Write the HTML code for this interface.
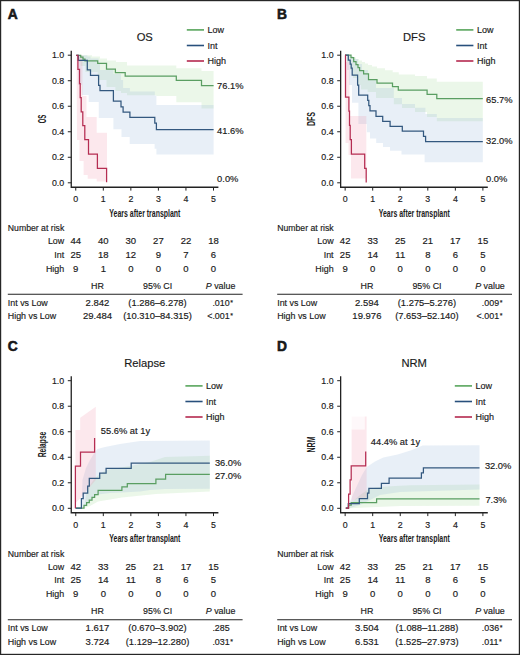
<!DOCTYPE html><html><head><meta charset="utf-8"><style>html,body{margin:0;padding:0;background:#fff;}svg{display:block;}</style></head><body>
<svg width="520" height="655" viewBox="0 0 520 655" font-family='"Liberation Sans", sans-serif' fill="#1a1a1a">
<style>text{stroke:#1a1a1a;stroke-width:0.16px;} text[font-weight=bold]{stroke:none;}</style>
<rect x="0" y="0" width="520" height="655" fill="#fff"/>
<g transform="translate(0,0)">
<g transform="translate(0,0)">
<path d="M76.30,55.30 L92.00,55.30 L92.00,56.50 L100.00,56.50 L100.00,58.50 L107.00,58.50 L107.00,60.50 L116.00,60.50 L116.00,62.00 L127.00,62.00 L127.00,65.40 L176.30,65.40 L176.30,68.30 L201.50,68.30 L201.50,71.00 L213.60,71.00 L213.60,108.60 L201.50,108.60 L201.50,102.30 L176.30,102.30 L176.30,95.90 L156.40,95.90 L156.40,95.20 L127.00,95.20 L127.00,93.00 L121.00,93.00 L121.00,91.00 L115.40,91.00 L115.40,87.00 L106.50,87.00 L106.50,80.00 L97.70,80.00 L97.70,72.00 L85.30,72.00 L85.30,66.00 L80.70,66.00 L80.70,62.00 L78.50,62.00 L78.50,55.30 L76.30,55.30 Z" fill="rgba(150,215,140,0.19)"/>
<path d="M76.30,55.30 L87.30,55.30 L87.30,56.50 L90.50,56.50 L90.50,58.50 L98.60,58.50 L98.60,63.00 L100.00,63.00 L100.00,70.00 L113.40,70.00 L113.40,74.00 L121.00,74.00 L121.00,80.00 L123.10,80.00 L123.10,88.00 L129.90,88.00 L129.90,91.50 L154.80,91.50 L154.80,95.50 L156.40,95.50 L156.40,105.00 L213.60,105.00 L213.60,154.60 L156.40,154.60 L156.40,148.80 L154.60,148.80 L154.60,144.00 L129.70,144.00 L129.70,137.00 L121.50,137.00 L121.50,129.20 L113.40,129.20 L113.40,118.00 L98.80,118.00 L98.80,102.00 L88.70,102.00 L88.70,95.00 L82.00,95.00 L82.00,85.00 L78.30,85.00 L78.30,55.30 L76.30,55.30 Z" fill="rgba(145,178,218,0.21)"/>
<path d="M76.50,55.30 L82.50,55.30 L82.50,96.00 L86.50,96.00 L86.50,117.00 L96.70,117.00 L96.70,132.80 L107.00,132.80 L107.00,181.50 L96.70,181.50 L96.70,178.80 L87.70,178.80 L87.70,175.00 L83.60,175.00 L83.60,161.00 L79.50,161.00 L79.50,140.00 L77.00,140.00 Z" fill="rgba(240,140,165,0.2)"/>
<path d="M76.30,55.30 H80.70 V57.00 H83.00 V59.00 H85.00 V60.90 H97.70 V63.40 H106.50 V69.00 H115.40 V72.70 H125.20 V76.10 H176.30 V80.30 H201.50 V85.50 H213.60" stroke="#5a9e62" stroke-width="1.25" fill="none" stroke-linejoin="miter" stroke-linecap="butt"/>
<path d="M76.30,55.30 H78.30 V60.40 H87.30 V69.90 H90.50 V75.30 H98.60 V85.30 H100.00 V90.50 H113.40 V101.20 H121.00 V106.80 H123.10 V112.00 H129.90 V117.40 H154.80 V123.20 H156.40 V129.50 H213.60" stroke="#33587f" stroke-width="1.25" fill="none" stroke-linejoin="miter" stroke-linecap="butt"/>
<path d="M76.30,55.30 H77.90 V69.40 H79.50 V83.60 H80.20 V97.70 H81.20 V111.90 H82.80 V125.60 H84.80 V139.50 H88.50 V154.00 H97.40 V168.30 H106.60 V182.30" stroke="#b52d52" stroke-width="1.25" fill="none" stroke-linejoin="miter" stroke-linecap="butt"/>
</g>
<path d="M71.25,50.8 V187.9 M70.6,187.25 H218.4" stroke="#222" stroke-width="1.3" fill="none"/>
<path d="M67.8,182.80 H71.3 M75.75,187.25 V190.6 M67.8,157.28 H71.3 M103.30,187.25 V190.6 M67.8,131.76 H71.3 M130.85,187.25 V190.6 M67.8,106.24 H71.3 M158.40,187.25 V190.6 M67.8,80.72 H71.3 M185.95,187.25 V190.6 M67.8,55.20 H71.3 M213.50,187.25 V190.6 " stroke="#222" stroke-width="1" fill="none"/>
<text x="64.20" y="185.90" font-size="8.8" text-anchor="end" font-weight="normal" >0.0</text>
<text x="75.75" y="202.20" font-size="8.8" text-anchor="middle" font-weight="normal" >0</text>
<text x="64.20" y="160.38" font-size="8.8" text-anchor="end" font-weight="normal" >0.2</text>
<text x="103.30" y="202.20" font-size="8.8" text-anchor="middle" font-weight="normal" >1</text>
<text x="64.20" y="134.86" font-size="8.8" text-anchor="end" font-weight="normal" >0.4</text>
<text x="130.85" y="202.20" font-size="8.8" text-anchor="middle" font-weight="normal" >2</text>
<text x="64.20" y="109.34" font-size="8.8" text-anchor="end" font-weight="normal" >0.6</text>
<text x="158.40" y="202.20" font-size="8.8" text-anchor="middle" font-weight="normal" >3</text>
<text x="64.20" y="83.82" font-size="8.8" text-anchor="end" font-weight="normal" >0.8</text>
<text x="185.95" y="202.20" font-size="8.8" text-anchor="middle" font-weight="normal" >4</text>
<text x="64.20" y="58.30" font-size="8.8" text-anchor="end" font-weight="normal" >1.0</text>
<text x="213.50" y="202.20" font-size="8.8" text-anchor="middle" font-weight="normal" >5</text>
<text x="144.85" y="216.9" font-size="10.2" font-weight="bold" text-anchor="middle" textLength="71" lengthAdjust="spacingAndGlyphs">Years after transplant</text>
<text transform="translate(45.8,119) rotate(-90)" x="0" y="0" font-size="11.6" text-anchor="middle" textLength="8.6" lengthAdjust="spacingAndGlyphs" font-weight="bold">OS</text>
<text x="7.70" y="19.00" font-size="13.8" text-anchor="start" font-weight="bold" style="stroke:#111;stroke-width:0.55px">A</text>
<text x="144.75" y="41.20" font-size="11.2" text-anchor="middle" font-weight="normal" >OS</text>
<path d="M186.8,29.9 H204" stroke="#58a55c" stroke-width="1.6"/>
<text x="207.50" y="33.10" font-size="9" text-anchor="start" font-weight="normal" >Low</text>
<path d="M186.8,45.5 H204" stroke="#28507c" stroke-width="1.6"/>
<text x="207.50" y="48.70" font-size="9" text-anchor="start" font-weight="normal" >Int</text>
<path d="M186.8,61.0 H204" stroke="#b4284e" stroke-width="1.6"/>
<text x="207.50" y="64.20" font-size="9" text-anchor="start" font-weight="normal" >High</text>
<text transform="translate(217.10,88.70) scale(1.05,1)" font-size="8.9" text-anchor="start" font-weight="normal" >76.1%</text>
<text transform="translate(217.10,133.60) scale(1.05,1)" font-size="8.9" text-anchor="start" font-weight="normal" >41.6%</text>
<text transform="translate(217.10,182.20) scale(1.05,1)" font-size="8.9" text-anchor="start" font-weight="normal" >0.0%</text>
<text x="7.80" y="231.40" font-size="8.7" text-anchor="start" font-weight="normal" >Number at risk</text>
<text x="64.20" y="244.30" font-size="8.9" text-anchor="end" font-weight="normal" >Low</text>
<text transform="translate(75.75,244.30) scale(1.07,1)" font-size="8.9" text-anchor="middle" font-weight="normal" >44</text>
<text transform="translate(103.30,244.30) scale(1.07,1)" font-size="8.9" text-anchor="middle" font-weight="normal" >40</text>
<text transform="translate(130.85,244.30) scale(1.07,1)" font-size="8.9" text-anchor="middle" font-weight="normal" >30</text>
<text transform="translate(158.40,244.30) scale(1.07,1)" font-size="8.9" text-anchor="middle" font-weight="normal" >27</text>
<text transform="translate(185.95,244.30) scale(1.07,1)" font-size="8.9" text-anchor="middle" font-weight="normal" >22</text>
<text transform="translate(213.50,244.30) scale(1.07,1)" font-size="8.9" text-anchor="middle" font-weight="normal" >18</text>
<text x="64.20" y="257.90" font-size="8.9" text-anchor="end" font-weight="normal" >Int</text>
<text transform="translate(75.75,257.90) scale(1.07,1)" font-size="8.9" text-anchor="middle" font-weight="normal" >25</text>
<text transform="translate(103.30,257.90) scale(1.07,1)" font-size="8.9" text-anchor="middle" font-weight="normal" >18</text>
<text transform="translate(130.85,257.90) scale(1.07,1)" font-size="8.9" text-anchor="middle" font-weight="normal" >12</text>
<text transform="translate(158.40,257.90) scale(1.07,1)" font-size="8.9" text-anchor="middle" font-weight="normal" >9</text>
<text transform="translate(185.95,257.90) scale(1.07,1)" font-size="8.9" text-anchor="middle" font-weight="normal" >7</text>
<text transform="translate(213.50,257.90) scale(1.07,1)" font-size="8.9" text-anchor="middle" font-weight="normal" >6</text>
<text x="64.20" y="271.60" font-size="8.9" text-anchor="end" font-weight="normal" >High</text>
<text transform="translate(75.75,271.60) scale(1.07,1)" font-size="8.9" text-anchor="middle" font-weight="normal" >9</text>
<text transform="translate(103.30,271.60) scale(1.07,1)" font-size="8.9" text-anchor="middle" font-weight="normal" >1</text>
<text transform="translate(130.85,271.60) scale(1.07,1)" font-size="8.9" text-anchor="middle" font-weight="normal" >0</text>
<text transform="translate(158.40,271.60) scale(1.07,1)" font-size="8.9" text-anchor="middle" font-weight="normal" >0</text>
<text transform="translate(185.95,271.60) scale(1.07,1)" font-size="8.9" text-anchor="middle" font-weight="normal" >0</text>
<text transform="translate(213.50,271.60) scale(1.07,1)" font-size="8.9" text-anchor="middle" font-weight="normal" >0</text>
<text x="97.50" y="288.80" font-size="8.9" text-anchor="middle" font-weight="normal" >HR</text>
<text x="157.60" y="288.80" font-size="8.9" text-anchor="middle" font-weight="normal" >95% CI</text>
<text x="220.60" y="288.80" font-size="8.9" text-anchor="middle" font-weight="normal" ><tspan font-style="italic">P</tspan> value</text>
<path d="M7.8,294.3 H242.6" stroke="#222" stroke-width="1.1"/>
<text x="7.80" y="305.50" font-size="8.9" text-anchor="start" font-weight="normal" >Int vs Low</text>
<text transform="translate(97.50,305.50) scale(1.07,1)" font-size="8.9" text-anchor="middle" font-weight="normal" >2.842</text>
<text transform="translate(157.50,305.50) scale(1.055,1)" font-size="8.9" text-anchor="middle" font-weight="normal" >(1.286–6.278)</text>
<text x="212.40" y="305.50" font-size="8.9" text-anchor="start" font-weight="normal" >.010<tspan font-size="7" dx="0.6" dy="-0.6">*</tspan></text>
<text x="7.80" y="319.00" font-size="8.9" text-anchor="start" font-weight="normal" >High vs Low</text>
<text transform="translate(97.50,319.00) scale(1.07,1)" font-size="8.9" text-anchor="middle" font-weight="normal" >29.484</text>
<text transform="translate(157.50,319.00) scale(1.055,1)" font-size="8.9" text-anchor="middle" font-weight="normal" >(10.310–84.315)</text>
<text x="212.40" y="319.00" font-size="8.9" text-anchor="end" font-weight="normal" >&lt;</text>
<text x="212.40" y="319.00" font-size="8.9" text-anchor="start" font-weight="normal" >.001<tspan font-size="7" dx="0.6" dy="-0.6">*</tspan></text>
</g>
<g transform="translate(269.4,0)">
<g transform="translate(-269.4,0)">
<path d="M345.20,55.20 L350.00,55.20 L350.00,56.20 L353.00,56.20 L353.00,57.50 L356.00,57.50 L356.00,59.00 L359.00,59.00 L359.00,60.50 L362.00,60.50 L362.00,62.00 L365.00,62.00 L365.00,63.50 L368.00,63.50 L368.00,65.00 L372.00,65.00 L372.00,66.50 L377.00,66.50 L377.00,68.30 L385.00,68.30 L385.00,70.30 L392.70,70.30 L392.70,72.30 L398.80,72.30 L398.80,74.60 L415.00,74.60 L415.00,75.90 L427.00,75.90 L427.00,78.50 L436.80,78.50 L436.80,81.80 L482.80,81.80 L482.80,121.20 L436.80,121.20 L436.80,117.00 L427.00,117.00 L427.00,112.00 L415.00,112.00 L415.00,108.00 L402.00,108.00 L402.00,104.30 L393.80,104.30 L393.80,98.00 L376.00,98.00 L376.00,92.00 L367.60,92.00 L367.60,89.50 L361.00,89.50 L361.00,85.00 L357.00,85.00 L357.00,78.00 L353.00,78.00 L353.00,70.00 L350.00,70.00 L350.00,62.00 L347.00,62.00 L347.00,55.20 L345.20,55.20 Z" fill="rgba(150,215,140,0.19)"/>
<path d="M345.20,55.20 L350.00,55.20 L350.00,56.50 L353.00,56.50 L353.00,59.00 L358.00,59.00 L358.00,64.00 L362.00,64.00 L362.00,70.00 L368.00,70.00 L368.00,80.00 L376.00,80.00 L376.00,88.00 L393.80,88.00 L393.80,98.00 L402.00,98.00 L402.00,104.00 L415.00,104.00 L415.00,107.80 L425.40,107.80 L425.40,114.00 L436.80,114.00 L436.80,117.90 L482.80,117.90 L482.80,162.30 L424.60,162.30 L424.60,154.60 L401.50,154.60 L401.50,150.80 L390.00,150.80 L390.00,147.00 L383.00,147.00 L383.00,143.00 L376.20,143.00 L376.20,138.50 L370.00,138.50 L370.00,132.30 L366.90,132.30 L366.90,124.00 L358.40,124.00 L358.40,102.80 L352.00,102.80 L352.00,85.00 L349.00,85.00 L349.00,70.00 L347.00,70.00 L347.00,55.20 L345.20,55.20 Z" fill="rgba(145,178,218,0.21)"/>
<path d="M345.50,62.00 L349.50,62.00 L349.50,116.00 L366.30,116.00 L366.30,178.50 L351.00,178.50 L351.00,155.00 L348.50,155.00 L348.50,143.00 L345.50,143.00 Z" fill="rgba(240,140,165,0.2)"/>
<path d="M345.20,55.20 H351.00 V57.70 H353.70 V61.50 H356.00 V64.60 H358.00 V67.50 H359.60 V70.50 H363.60 V73.80 H368.50 V79.60 H377.00 V83.10 H392.50 V86.50 H398.30 V90.20 H427.10 V94.40 H436.80 V98.60 H482.80" stroke="#5a9e62" stroke-width="1.25" fill="none" stroke-linejoin="miter" stroke-linecap="butt"/>
<path d="M345.20,55.20 H348.30 V60.00 H350.20 V64.00 H351.20 V68.00 H352.20 V75.10 H357.60 V85.00 H358.70 V95.10 H367.70 V100.40 H368.80 V105.50 H370.00 V110.80 H376.00 V116.40 H382.70 V121.40 H390.10 V126.30 H402.30 V131.20 H423.50 V136.30 H425.60 V141.60 H482.80" stroke="#33587f" stroke-width="1.25" fill="none" stroke-linejoin="miter" stroke-linecap="butt"/>
<path d="M345.20,55.20 H345.50 V97.00 H348.90 V111.20 H349.50 V125.40 H350.20 V139.60 H351.40 V154.10 H364.70 V168.40 H366.20 V182.40" stroke="#b52d52" stroke-width="1.25" fill="none" stroke-linejoin="miter" stroke-linecap="butt"/>
</g>
<path d="M71.25,50.8 V187.9 M70.6,187.25 H218.4" stroke="#222" stroke-width="1.3" fill="none"/>
<path d="M67.8,182.80 H71.3 M75.75,187.25 V190.6 M67.8,157.28 H71.3 M103.30,187.25 V190.6 M67.8,131.76 H71.3 M130.85,187.25 V190.6 M67.8,106.24 H71.3 M158.40,187.25 V190.6 M67.8,80.72 H71.3 M185.95,187.25 V190.6 M67.8,55.20 H71.3 M213.50,187.25 V190.6 " stroke="#222" stroke-width="1" fill="none"/>
<text x="64.20" y="185.90" font-size="8.8" text-anchor="end" font-weight="normal" >0.0</text>
<text x="75.75" y="202.20" font-size="8.8" text-anchor="middle" font-weight="normal" >0</text>
<text x="64.20" y="160.38" font-size="8.8" text-anchor="end" font-weight="normal" >0.2</text>
<text x="103.30" y="202.20" font-size="8.8" text-anchor="middle" font-weight="normal" >1</text>
<text x="64.20" y="134.86" font-size="8.8" text-anchor="end" font-weight="normal" >0.4</text>
<text x="130.85" y="202.20" font-size="8.8" text-anchor="middle" font-weight="normal" >2</text>
<text x="64.20" y="109.34" font-size="8.8" text-anchor="end" font-weight="normal" >0.6</text>
<text x="158.40" y="202.20" font-size="8.8" text-anchor="middle" font-weight="normal" >3</text>
<text x="64.20" y="83.82" font-size="8.8" text-anchor="end" font-weight="normal" >0.8</text>
<text x="185.95" y="202.20" font-size="8.8" text-anchor="middle" font-weight="normal" >4</text>
<text x="64.20" y="58.30" font-size="8.8" text-anchor="end" font-weight="normal" >1.0</text>
<text x="213.50" y="202.20" font-size="8.8" text-anchor="middle" font-weight="normal" >5</text>
<text x="144.85" y="216.9" font-size="10.2" font-weight="bold" text-anchor="middle" textLength="71" lengthAdjust="spacingAndGlyphs">Years after transplant</text>
<text transform="translate(45.8,119) rotate(-90)" x="0" y="0" font-size="11.6" text-anchor="middle" textLength="14.1" lengthAdjust="spacingAndGlyphs" font-weight="bold">DFS</text>
<text x="7.70" y="19.00" font-size="13.8" text-anchor="start" font-weight="bold" style="stroke:#111;stroke-width:0.55px">B</text>
<text x="144.75" y="41.20" font-size="11.2" text-anchor="middle" font-weight="normal" >DFS</text>
<path d="M186.8,29.9 H204" stroke="#58a55c" stroke-width="1.6"/>
<text x="207.50" y="33.10" font-size="9" text-anchor="start" font-weight="normal" >Low</text>
<path d="M186.8,45.5 H204" stroke="#28507c" stroke-width="1.6"/>
<text x="207.50" y="48.70" font-size="9" text-anchor="start" font-weight="normal" >Int</text>
<path d="M186.8,61.0 H204" stroke="#b4284e" stroke-width="1.6"/>
<text x="207.50" y="64.20" font-size="9" text-anchor="start" font-weight="normal" >High</text>
<text transform="translate(216.60,102.60) scale(1.05,1)" font-size="8.9" text-anchor="start" font-weight="normal" >65.7%</text>
<text transform="translate(216.60,144.10) scale(1.05,1)" font-size="8.9" text-anchor="start" font-weight="normal" >32.0%</text>
<text transform="translate(216.60,182.10) scale(1.05,1)" font-size="8.9" text-anchor="start" font-weight="normal" >0.0%</text>
<text x="7.80" y="231.40" font-size="8.7" text-anchor="start" font-weight="normal" >Number at risk</text>
<text x="64.20" y="244.30" font-size="8.9" text-anchor="end" font-weight="normal" >Low</text>
<text transform="translate(75.75,244.30) scale(1.07,1)" font-size="8.9" text-anchor="middle" font-weight="normal" >42</text>
<text transform="translate(103.30,244.30) scale(1.07,1)" font-size="8.9" text-anchor="middle" font-weight="normal" >33</text>
<text transform="translate(130.85,244.30) scale(1.07,1)" font-size="8.9" text-anchor="middle" font-weight="normal" >25</text>
<text transform="translate(158.40,244.30) scale(1.07,1)" font-size="8.9" text-anchor="middle" font-weight="normal" >21</text>
<text transform="translate(185.95,244.30) scale(1.07,1)" font-size="8.9" text-anchor="middle" font-weight="normal" >17</text>
<text transform="translate(213.50,244.30) scale(1.07,1)" font-size="8.9" text-anchor="middle" font-weight="normal" >15</text>
<text x="64.20" y="257.90" font-size="8.9" text-anchor="end" font-weight="normal" >Int</text>
<text transform="translate(75.75,257.90) scale(1.07,1)" font-size="8.9" text-anchor="middle" font-weight="normal" >25</text>
<text transform="translate(103.30,257.90) scale(1.07,1)" font-size="8.9" text-anchor="middle" font-weight="normal" >14</text>
<text transform="translate(130.85,257.90) scale(1.07,1)" font-size="8.9" text-anchor="middle" font-weight="normal" >11</text>
<text transform="translate(158.40,257.90) scale(1.07,1)" font-size="8.9" text-anchor="middle" font-weight="normal" >8</text>
<text transform="translate(185.95,257.90) scale(1.07,1)" font-size="8.9" text-anchor="middle" font-weight="normal" >6</text>
<text transform="translate(213.50,257.90) scale(1.07,1)" font-size="8.9" text-anchor="middle" font-weight="normal" >5</text>
<text x="64.20" y="271.60" font-size="8.9" text-anchor="end" font-weight="normal" >High</text>
<text transform="translate(75.75,271.60) scale(1.07,1)" font-size="8.9" text-anchor="middle" font-weight="normal" >9</text>
<text transform="translate(103.30,271.60) scale(1.07,1)" font-size="8.9" text-anchor="middle" font-weight="normal" >0</text>
<text transform="translate(130.85,271.60) scale(1.07,1)" font-size="8.9" text-anchor="middle" font-weight="normal" >0</text>
<text transform="translate(158.40,271.60) scale(1.07,1)" font-size="8.9" text-anchor="middle" font-weight="normal" >0</text>
<text transform="translate(185.95,271.60) scale(1.07,1)" font-size="8.9" text-anchor="middle" font-weight="normal" >0</text>
<text transform="translate(213.50,271.60) scale(1.07,1)" font-size="8.9" text-anchor="middle" font-weight="normal" >0</text>
<text x="97.50" y="288.80" font-size="8.9" text-anchor="middle" font-weight="normal" >HR</text>
<text x="157.60" y="288.80" font-size="8.9" text-anchor="middle" font-weight="normal" >95% CI</text>
<text x="220.60" y="288.80" font-size="8.9" text-anchor="middle" font-weight="normal" ><tspan font-style="italic">P</tspan> value</text>
<path d="M7.8,294.3 H242.6" stroke="#222" stroke-width="1.1"/>
<text x="7.80" y="305.50" font-size="8.9" text-anchor="start" font-weight="normal" >Int vs Low</text>
<text transform="translate(97.50,305.50) scale(1.07,1)" font-size="8.9" text-anchor="middle" font-weight="normal" >2.594</text>
<text transform="translate(157.50,305.50) scale(1.055,1)" font-size="8.9" text-anchor="middle" font-weight="normal" >(1.275–5.276)</text>
<text x="212.40" y="305.50" font-size="8.9" text-anchor="start" font-weight="normal" >.009<tspan font-size="7" dx="0.6" dy="-0.6">*</tspan></text>
<text x="7.80" y="319.00" font-size="8.9" text-anchor="start" font-weight="normal" >High vs Low</text>
<text transform="translate(97.50,319.00) scale(1.07,1)" font-size="8.9" text-anchor="middle" font-weight="normal" >19.976</text>
<text transform="translate(157.50,319.00) scale(1.055,1)" font-size="8.9" text-anchor="middle" font-weight="normal" >(7.653–52.140)</text>
<text x="212.40" y="319.00" font-size="8.9" text-anchor="end" font-weight="normal" >&lt;</text>
<text x="212.40" y="319.00" font-size="8.9" text-anchor="start" font-weight="normal" >.001<tspan font-size="7" dx="0.6" dy="-0.6">*</tspan></text>
</g>
<g transform="translate(0,325.5)">
<g transform="translate(0,-325.5)">
<path d="M84.00,508.00 L86.00,495.00 L90.00,485.00 L95.00,478.00 L100.00,474.00 L106.00,470.00 L130.00,466.00 L150.00,462.00 L165.00,457.00 L209.80,455.80 L209.80,491.50 L156.00,494.00 L122.00,497.50 L98.00,501.50 L90.00,506.00 Z" fill="rgba(150,215,140,0.19)"/>
<path d="M81.50,508.00 L82.50,480.00 L86.00,468.00 L90.00,460.00 L95.00,452.00 L97.50,449.00 L105.00,447.00 L120.00,444.00 L140.00,441.00 L209.80,440.40 L209.80,488.80 L165.00,489.00 L150.00,490.00 L140.00,491.50 L122.00,492.50 L110.00,493.00 L98.00,494.50 L90.00,501.00 L85.00,506.00 Z" fill="rgba(145,178,218,0.21)"/>
<path d="M75.40,430.00 L80.20,430.00 L80.20,417.70 L95.80,406.80 L95.80,480.00 L80.50,498.00 L75.40,503.00 Z" fill="rgba(240,140,165,0.2)"/>
<path d="M75.60,508.20 H84.00 V505.30 H86.60 V502.60 H89.30 V500.00 H92.00 V497.40 H94.60 V494.70 H98.10 V490.30 H121.90 V486.80 H127.30 V483.50 H155.90 V479.10 H165.60 V474.40 H209.80" stroke="#5a9e62" stroke-width="1.25" fill="none" stroke-linejoin="miter" stroke-linecap="butt"/>
<path d="M75.60,508.20 H81.40 V498.50 H83.20 V493.00 H87.70 V486.00 H89.30 V478.30 H99.70 V473.20 H106.10 V468.40 H131.20 V463.10 H209.80" stroke="#33587f" stroke-width="1.25" fill="none" stroke-linejoin="miter" stroke-linecap="butt"/>
<path d="M75.40,508.20 H75.40 V466.20 H80.50 V452.10 H94.60 V438.00" stroke="#b52d52" stroke-width="1.25" fill="none" stroke-linejoin="miter" stroke-linecap="butt"/>
</g>
<path d="M71.25,50.8 V187.9 M70.6,187.25 H218.4" stroke="#222" stroke-width="1.3" fill="none"/>
<path d="M67.8,182.80 H71.3 M75.75,187.25 V190.6 M67.8,157.28 H71.3 M103.30,187.25 V190.6 M67.8,131.76 H71.3 M130.85,187.25 V190.6 M67.8,106.24 H71.3 M158.40,187.25 V190.6 M67.8,80.72 H71.3 M185.95,187.25 V190.6 M67.8,55.20 H71.3 M213.50,187.25 V190.6 " stroke="#222" stroke-width="1" fill="none"/>
<text x="64.20" y="185.90" font-size="8.8" text-anchor="end" font-weight="normal" >0.0</text>
<text x="75.75" y="202.20" font-size="8.8" text-anchor="middle" font-weight="normal" >0</text>
<text x="64.20" y="160.38" font-size="8.8" text-anchor="end" font-weight="normal" >0.2</text>
<text x="103.30" y="202.20" font-size="8.8" text-anchor="middle" font-weight="normal" >1</text>
<text x="64.20" y="134.86" font-size="8.8" text-anchor="end" font-weight="normal" >0.4</text>
<text x="130.85" y="202.20" font-size="8.8" text-anchor="middle" font-weight="normal" >2</text>
<text x="64.20" y="109.34" font-size="8.8" text-anchor="end" font-weight="normal" >0.6</text>
<text x="158.40" y="202.20" font-size="8.8" text-anchor="middle" font-weight="normal" >3</text>
<text x="64.20" y="83.82" font-size="8.8" text-anchor="end" font-weight="normal" >0.8</text>
<text x="185.95" y="202.20" font-size="8.8" text-anchor="middle" font-weight="normal" >4</text>
<text x="64.20" y="58.30" font-size="8.8" text-anchor="end" font-weight="normal" >1.0</text>
<text x="213.50" y="202.20" font-size="8.8" text-anchor="middle" font-weight="normal" >5</text>
<text x="144.85" y="216.9" font-size="10.2" font-weight="bold" text-anchor="middle" textLength="71" lengthAdjust="spacingAndGlyphs">Years after transplant</text>
<text transform="translate(45.8,119) rotate(-90)" x="0" y="0" font-size="11.6" text-anchor="middle" textLength="25.6" lengthAdjust="spacingAndGlyphs" font-weight="bold">Relapse</text>
<text x="7.70" y="25.60" font-size="13.8" text-anchor="start" font-weight="bold" style="stroke:#111;stroke-width:0.55px">C</text>
<text x="144.75" y="41.20" font-size="11.2" text-anchor="middle" font-weight="normal" >Relapse</text>
<path d="M185.4,60.4 H202.6" stroke="#58a55c" stroke-width="1.6"/>
<text x="206.10" y="63.60" font-size="9" text-anchor="start" font-weight="normal" >Low</text>
<path d="M185.4,76.0 H202.6" stroke="#28507c" stroke-width="1.6"/>
<text x="206.10" y="79.20" font-size="9" text-anchor="start" font-weight="normal" >Int</text>
<path d="M185.4,91.5 H202.6" stroke="#b4284e" stroke-width="1.6"/>
<text x="206.10" y="94.70" font-size="9" text-anchor="start" font-weight="normal" >High</text>
<text transform="translate(214.90,140.10) scale(1.05,1)" font-size="8.9" text-anchor="start" font-weight="normal" >36.0%</text>
<text transform="translate(214.90,153.80) scale(1.05,1)" font-size="8.9" text-anchor="start" font-weight="normal" >27.0%</text>
<text transform="translate(100.80,108.70) scale(1.05,1)" font-size="8.9" text-anchor="start" font-weight="normal" >55.6% at 1y</text>
<text x="7.80" y="231.40" font-size="8.7" text-anchor="start" font-weight="normal" >Number at risk</text>
<text x="64.20" y="244.30" font-size="8.9" text-anchor="end" font-weight="normal" >Low</text>
<text transform="translate(75.75,244.30) scale(1.07,1)" font-size="8.9" text-anchor="middle" font-weight="normal" >42</text>
<text transform="translate(103.30,244.30) scale(1.07,1)" font-size="8.9" text-anchor="middle" font-weight="normal" >33</text>
<text transform="translate(130.85,244.30) scale(1.07,1)" font-size="8.9" text-anchor="middle" font-weight="normal" >25</text>
<text transform="translate(158.40,244.30) scale(1.07,1)" font-size="8.9" text-anchor="middle" font-weight="normal" >21</text>
<text transform="translate(185.95,244.30) scale(1.07,1)" font-size="8.9" text-anchor="middle" font-weight="normal" >17</text>
<text transform="translate(213.50,244.30) scale(1.07,1)" font-size="8.9" text-anchor="middle" font-weight="normal" >15</text>
<text x="64.20" y="257.90" font-size="8.9" text-anchor="end" font-weight="normal" >Int</text>
<text transform="translate(75.75,257.90) scale(1.07,1)" font-size="8.9" text-anchor="middle" font-weight="normal" >25</text>
<text transform="translate(103.30,257.90) scale(1.07,1)" font-size="8.9" text-anchor="middle" font-weight="normal" >14</text>
<text transform="translate(130.85,257.90) scale(1.07,1)" font-size="8.9" text-anchor="middle" font-weight="normal" >11</text>
<text transform="translate(158.40,257.90) scale(1.07,1)" font-size="8.9" text-anchor="middle" font-weight="normal" >8</text>
<text transform="translate(185.95,257.90) scale(1.07,1)" font-size="8.9" text-anchor="middle" font-weight="normal" >6</text>
<text transform="translate(213.50,257.90) scale(1.07,1)" font-size="8.9" text-anchor="middle" font-weight="normal" >5</text>
<text x="64.20" y="271.60" font-size="8.9" text-anchor="end" font-weight="normal" >High</text>
<text transform="translate(75.75,271.60) scale(1.07,1)" font-size="8.9" text-anchor="middle" font-weight="normal" >9</text>
<text transform="translate(103.30,271.60) scale(1.07,1)" font-size="8.9" text-anchor="middle" font-weight="normal" >0</text>
<text transform="translate(130.85,271.60) scale(1.07,1)" font-size="8.9" text-anchor="middle" font-weight="normal" >0</text>
<text transform="translate(158.40,271.60) scale(1.07,1)" font-size="8.9" text-anchor="middle" font-weight="normal" >0</text>
<text transform="translate(185.95,271.60) scale(1.07,1)" font-size="8.9" text-anchor="middle" font-weight="normal" >0</text>
<text transform="translate(213.50,271.60) scale(1.07,1)" font-size="8.9" text-anchor="middle" font-weight="normal" >0</text>
<text x="97.50" y="288.80" font-size="8.9" text-anchor="middle" font-weight="normal" >HR</text>
<text x="157.60" y="288.80" font-size="8.9" text-anchor="middle" font-weight="normal" >95% CI</text>
<text x="220.60" y="288.80" font-size="8.9" text-anchor="middle" font-weight="normal" ><tspan font-style="italic">P</tspan> value</text>
<path d="M7.8,294.3 H242.6" stroke="#222" stroke-width="1.1"/>
<text x="7.80" y="305.50" font-size="8.9" text-anchor="start" font-weight="normal" >Int vs Low</text>
<text transform="translate(97.50,305.50) scale(1.07,1)" font-size="8.9" text-anchor="middle" font-weight="normal" >1.617</text>
<text transform="translate(157.50,305.50) scale(1.055,1)" font-size="8.9" text-anchor="middle" font-weight="normal" >(0.670–3.902)</text>
<text x="212.40" y="305.50" font-size="8.9" text-anchor="start" font-weight="normal" >.285</text>
<text x="7.80" y="319.00" font-size="8.9" text-anchor="start" font-weight="normal" >High vs Low</text>
<text transform="translate(97.50,319.00) scale(1.07,1)" font-size="8.9" text-anchor="middle" font-weight="normal" >3.724</text>
<text transform="translate(157.50,319.00) scale(1.055,1)" font-size="8.9" text-anchor="middle" font-weight="normal" >(1.129–12.280)</text>
<text x="212.40" y="319.00" font-size="8.9" text-anchor="start" font-weight="normal" >.031<tspan font-size="7" dx="0.6" dy="-0.6">*</tspan></text>
</g>
<g transform="translate(269.4,325.5)">
<g transform="translate(-269.4,-325.5)">
<path d="M348.50,508.00 L352.00,502.00 L360.00,495.00 L368.00,489.50 L376.00,487.50 L390.00,486.30 L410.00,485.30 L479.50,484.50 L479.50,505.80 L400.00,506.00 L376.00,507.00 L350.00,508.20 Z" fill="rgba(150,215,140,0.19)"/>
<path d="M348.50,505.00 L355.00,490.00 L362.00,475.00 L366.80,467.00 L375.00,461.50 L383.30,457.50 L397.70,454.50 L412.00,450.00 L422.50,445.50 L479.50,445.20 L479.50,489.60 L400.00,492.00 L380.00,495.00 L370.00,500.00 L360.00,505.00 L350.00,508.00 Z" fill="rgba(145,178,218,0.21)"/>
<path d="M351.60,429.50 L364.80,429.50 L364.80,416.50 L366.60,416.50 L366.60,497.50 L358.00,498.50 L352.00,501.00 L351.60,503.00 Z" fill="rgba(240,140,165,0.2)"/>
<path d="M351.60,416.50 L364.80,416.50 L364.80,429.50 L351.60,429.50 Z" fill="rgba(240,140,165,0.06)"/>
<path d="M345.80,508.20 H348.50 V505.20 H351.20 V502.70 H376.60 V498.90 H479.50" stroke="#5a9e62" stroke-width="1.25" fill="none" stroke-linejoin="miter" stroke-linecap="butt"/>
<path d="M345.80,508.20 H348.30 V503.70 H359.30 V498.70 H367.50 V493.10 H368.90 V488.30 H381.40 V483.30 H389.10 V478.20 H421.40 V472.80 H423.40 V467.80 H479.50" stroke="#33587f" stroke-width="1.25" fill="none" stroke-linejoin="miter" stroke-linecap="butt"/>
<path d="M345.80,508.20 H348.60 V494.00 H350.10 V479.80 H351.20 V465.90 H365.70 V451.60" stroke="#b52d52" stroke-width="1.25" fill="none" stroke-linejoin="miter" stroke-linecap="butt"/>
</g>
<path d="M71.25,50.8 V187.9 M70.6,187.25 H218.4" stroke="#222" stroke-width="1.3" fill="none"/>
<path d="M67.8,182.80 H71.3 M75.75,187.25 V190.6 M67.8,157.28 H71.3 M103.30,187.25 V190.6 M67.8,131.76 H71.3 M130.85,187.25 V190.6 M67.8,106.24 H71.3 M158.40,187.25 V190.6 M67.8,80.72 H71.3 M185.95,187.25 V190.6 M67.8,55.20 H71.3 M213.50,187.25 V190.6 " stroke="#222" stroke-width="1" fill="none"/>
<text x="64.20" y="185.90" font-size="8.8" text-anchor="end" font-weight="normal" >0.0</text>
<text x="75.75" y="202.20" font-size="8.8" text-anchor="middle" font-weight="normal" >0</text>
<text x="64.20" y="160.38" font-size="8.8" text-anchor="end" font-weight="normal" >0.2</text>
<text x="103.30" y="202.20" font-size="8.8" text-anchor="middle" font-weight="normal" >1</text>
<text x="64.20" y="134.86" font-size="8.8" text-anchor="end" font-weight="normal" >0.4</text>
<text x="130.85" y="202.20" font-size="8.8" text-anchor="middle" font-weight="normal" >2</text>
<text x="64.20" y="109.34" font-size="8.8" text-anchor="end" font-weight="normal" >0.6</text>
<text x="158.40" y="202.20" font-size="8.8" text-anchor="middle" font-weight="normal" >3</text>
<text x="64.20" y="83.82" font-size="8.8" text-anchor="end" font-weight="normal" >0.8</text>
<text x="185.95" y="202.20" font-size="8.8" text-anchor="middle" font-weight="normal" >4</text>
<text x="64.20" y="58.30" font-size="8.8" text-anchor="end" font-weight="normal" >1.0</text>
<text x="213.50" y="202.20" font-size="8.8" text-anchor="middle" font-weight="normal" >5</text>
<text x="144.85" y="216.9" font-size="10.2" font-weight="bold" text-anchor="middle" textLength="71" lengthAdjust="spacingAndGlyphs">Years after transplant</text>
<text transform="translate(45.8,119) rotate(-90)" x="0" y="0" font-size="11.6" text-anchor="middle" textLength="16" lengthAdjust="spacingAndGlyphs" font-weight="bold">NRM</text>
<text x="7.70" y="25.60" font-size="13.8" text-anchor="start" font-weight="bold" style="stroke:#111;stroke-width:0.55px">D</text>
<text x="144.75" y="41.20" font-size="11.2" text-anchor="middle" font-weight="normal" >NRM</text>
<path d="M185.4,60.4 H202.6" stroke="#58a55c" stroke-width="1.6"/>
<text x="206.10" y="63.60" font-size="9" text-anchor="start" font-weight="normal" >Low</text>
<path d="M185.4,76.0 H202.6" stroke="#28507c" stroke-width="1.6"/>
<text x="206.10" y="79.20" font-size="9" text-anchor="start" font-weight="normal" >Int</text>
<path d="M185.4,91.5 H202.6" stroke="#b4284e" stroke-width="1.6"/>
<text x="206.10" y="94.70" font-size="9" text-anchor="start" font-weight="normal" >High</text>
<text transform="translate(215.50,143.40) scale(1.05,1)" font-size="8.9" text-anchor="start" font-weight="normal" >32.0%</text>
<text transform="translate(216.00,177.60) scale(1.05,1)" font-size="8.9" text-anchor="start" font-weight="normal" >7.3%</text>
<text transform="translate(101.40,119.00) scale(1.05,1)" font-size="8.9" text-anchor="start" font-weight="normal" >44.4% at 1y</text>
<text x="7.80" y="231.40" font-size="8.7" text-anchor="start" font-weight="normal" >Number at risk</text>
<text x="64.20" y="244.30" font-size="8.9" text-anchor="end" font-weight="normal" >Low</text>
<text transform="translate(75.75,244.30) scale(1.07,1)" font-size="8.9" text-anchor="middle" font-weight="normal" >42</text>
<text transform="translate(103.30,244.30) scale(1.07,1)" font-size="8.9" text-anchor="middle" font-weight="normal" >33</text>
<text transform="translate(130.85,244.30) scale(1.07,1)" font-size="8.9" text-anchor="middle" font-weight="normal" >25</text>
<text transform="translate(158.40,244.30) scale(1.07,1)" font-size="8.9" text-anchor="middle" font-weight="normal" >21</text>
<text transform="translate(185.95,244.30) scale(1.07,1)" font-size="8.9" text-anchor="middle" font-weight="normal" >17</text>
<text transform="translate(213.50,244.30) scale(1.07,1)" font-size="8.9" text-anchor="middle" font-weight="normal" >15</text>
<text x="64.20" y="257.90" font-size="8.9" text-anchor="end" font-weight="normal" >Int</text>
<text transform="translate(75.75,257.90) scale(1.07,1)" font-size="8.9" text-anchor="middle" font-weight="normal" >25</text>
<text transform="translate(103.30,257.90) scale(1.07,1)" font-size="8.9" text-anchor="middle" font-weight="normal" >14</text>
<text transform="translate(130.85,257.90) scale(1.07,1)" font-size="8.9" text-anchor="middle" font-weight="normal" >11</text>
<text transform="translate(158.40,257.90) scale(1.07,1)" font-size="8.9" text-anchor="middle" font-weight="normal" >8</text>
<text transform="translate(185.95,257.90) scale(1.07,1)" font-size="8.9" text-anchor="middle" font-weight="normal" >6</text>
<text transform="translate(213.50,257.90) scale(1.07,1)" font-size="8.9" text-anchor="middle" font-weight="normal" >5</text>
<text x="64.20" y="271.60" font-size="8.9" text-anchor="end" font-weight="normal" >High</text>
<text transform="translate(75.75,271.60) scale(1.07,1)" font-size="8.9" text-anchor="middle" font-weight="normal" >9</text>
<text transform="translate(103.30,271.60) scale(1.07,1)" font-size="8.9" text-anchor="middle" font-weight="normal" >0</text>
<text transform="translate(130.85,271.60) scale(1.07,1)" font-size="8.9" text-anchor="middle" font-weight="normal" >0</text>
<text transform="translate(158.40,271.60) scale(1.07,1)" font-size="8.9" text-anchor="middle" font-weight="normal" >0</text>
<text transform="translate(185.95,271.60) scale(1.07,1)" font-size="8.9" text-anchor="middle" font-weight="normal" >0</text>
<text transform="translate(213.50,271.60) scale(1.07,1)" font-size="8.9" text-anchor="middle" font-weight="normal" >0</text>
<text x="97.50" y="288.80" font-size="8.9" text-anchor="middle" font-weight="normal" >HR</text>
<text x="157.60" y="288.80" font-size="8.9" text-anchor="middle" font-weight="normal" >95% CI</text>
<text x="220.60" y="288.80" font-size="8.9" text-anchor="middle" font-weight="normal" ><tspan font-style="italic">P</tspan> value</text>
<path d="M7.8,294.3 H242.6" stroke="#222" stroke-width="1.1"/>
<text x="7.80" y="305.50" font-size="8.9" text-anchor="start" font-weight="normal" >Int vs Low</text>
<text transform="translate(97.50,305.50) scale(1.07,1)" font-size="8.9" text-anchor="middle" font-weight="normal" >3.504</text>
<text transform="translate(157.50,305.50) scale(1.055,1)" font-size="8.9" text-anchor="middle" font-weight="normal" >(1.088–11.288)</text>
<text x="212.40" y="305.50" font-size="8.9" text-anchor="start" font-weight="normal" >.036<tspan font-size="7" dx="0.6" dy="-0.6">*</tspan></text>
<text x="7.80" y="319.00" font-size="8.9" text-anchor="start" font-weight="normal" >High vs Low</text>
<text transform="translate(97.50,319.00) scale(1.07,1)" font-size="8.9" text-anchor="middle" font-weight="normal" >6.531</text>
<text transform="translate(157.50,319.00) scale(1.055,1)" font-size="8.9" text-anchor="middle" font-weight="normal" >(1.525–27.973)</text>
<text x="212.40" y="319.00" font-size="8.9" text-anchor="start" font-weight="normal" >.011<tspan font-size="7" dx="0.6" dy="-0.6">*</tspan></text>
</g>
<rect x="0.55" y="0.55" width="518.9" height="653.9" fill="none" stroke="#262626" stroke-width="1.3"/>
</svg></body></html>
